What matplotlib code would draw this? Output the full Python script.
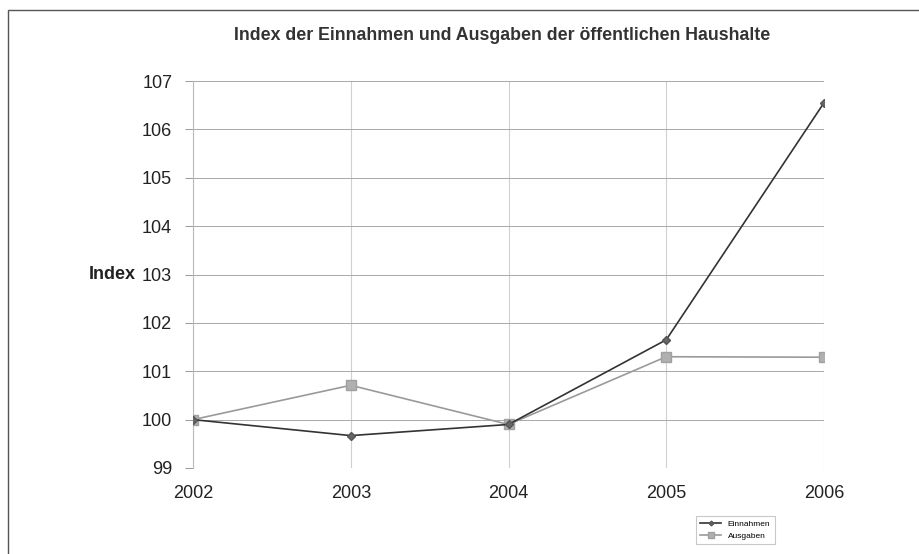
import matplotlib
matplotlib.use("Agg")
import matplotlib.pyplot as plt
from matplotlib.patches import Rectangle

years = ["2002", "2003", "2004", "2005", "2006"]
einnahmen = [100.0, 99.67, 99.9, 101.65, 106.55]
ausgaben = [100.0, 100.71, 99.9, 101.3, 101.29]
yticks = [99, 100, 101, 102, 103, 104, 105, 106, 107]

plt.rcParams['font.family'] = ['Liberation Sans', 'DejaVu Sans']

W, H = 919, 554
fig = plt.figure(figsize=(W / 100, H / 100), dpi=100)
fig.patch.set_facecolor('white')

# outer frame
fig.patches.append(Rectangle((8 / W, -0.1), 1.2, 1.1 - 10 / H, transform=fig.transFigure,
                             fill=False, edgecolor='#555555', linewidth=1.0))

ax = fig.add_axes([193 / W, (H - 468) / H, (824 - 193) / W, (468 - 81) / H])
x = list(range(len(years)))
ax.plot(x, einnahmen, color='#333333', linewidth=1.2, marker='D', markersize=4,
        markerfacecolor='#666666', markeredgecolor='#555555', label='Einnahmen', zorder=4)
ax.plot(x, ausgaben, color='#9a9a9a', linewidth=1.2, marker='s', markersize=6.5,
        markerfacecolor='#b0b0b0', markeredgecolor='#a0a0a0', label='Ausgaben', zorder=3)

ax.set_xlim(0, len(years) - 1)
ax.set_ylim(99, 107)
ax.set_xticks(x)
ax.set_xticklabels(years, fontsize=13, color='#222222')
ax.set_yticks(yticks)
ax.set_yticklabels([str(v) for v in yticks], fontsize=13, color='#222222')
ax.tick_params(axis='x', length=0, pad=12)
ax.tick_params(axis='y', length=6, color='#999999', width=0.7, pad=9)

for s in ['top', 'right', 'bottom']:
    ax.spines[s].set_visible(False)
ax.spines['left'].set_color('#bbbbbb')
ax.spines['left'].set_linewidth(0.8)

ax.grid(axis='y', color='#a8a8a8', linewidth=0.7)
ax.grid(axis='x', color='#d0d0d0', linewidth=0.8)
ax.set_axisbelow(True)

ax.set_ylabel('Index', rotation=0, fontsize=13, fontweight='bold', color='#222222',
              va='center', ha='center')
ax.yaxis.set_label_coords(-0.128, 0.5)

fig.text(502 / W, 1 - 35 / H, 'Index der Einnahmen und Ausgaben der öffentlichen Haushalte',
         ha='center', va='center', fontsize=12.8, fontweight='bold', color='#333333')

leg = fig.legend(loc='upper left', bbox_to_anchor=(692 / W, 1 - 512 / H), fontsize=6,
                 frameon=True, fancybox=False, edgecolor='#bbbbbb', handlelength=2.5,
                 borderpad=0.5, labelspacing=0.5, markerscale=0.6)
leg.get_frame().set_linewidth(0.8)

fig.savefig('out.png', dpi=100)
